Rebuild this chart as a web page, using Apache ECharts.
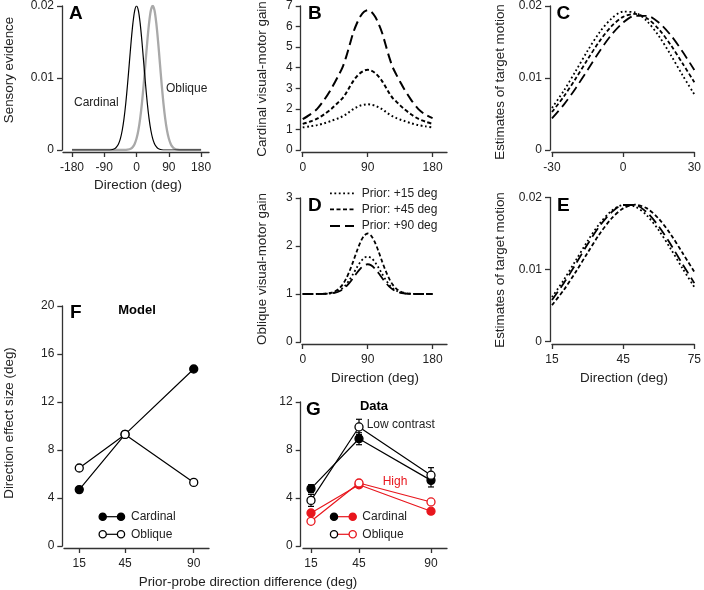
<!DOCTYPE html>
<html><head><meta charset="utf-8">
<script src="https://cdn.jsdelivr.net/npm/echarts@6/dist/echarts.min.js"></script>
<style>html,body{margin:0;padding:0;background:#fff}#chart{width:704px;height:590px}</style>
</head><body><div id="chart"></div>
<script>
// ---------- Panel A: sensory evidence ----------
const cardinalDir = [-180,-100,-80,-70,-60,-55,-50,-45,-40,-35,-30,-25,-20,-15,-10,-5,0,5,10,15,20,25,30,35,40,45,50,55,60,70,80,100,180];
const cardinalEvidence = [0,0,0,0.00004,0.00022,0.00046,0.00088,0.00159,0.00271,0.00433,0.00649,0.00916,0.01213,0.0151,0.01765,0.0194,0.02,0.0194,0.01765,0.0151,0.01213,0.00916,0.00649,0.00433,0.00271,0.00159,0.00088,0.00046,0.00022,0.00004,0,0,0];
const obliqueDir = [-180,-55,-35,-25,-15,-10,-5,0,5,10,15,20,25,30,35,40,45,50,55,60,65,70,75,80,85,90,95,100,105,115,125,145,180];
const obliqueEvidence = [0,0,0,0.00004,0.00022,0.00046,0.00088,0.00159,0.00271,0.00433,0.00649,0.00916,0.01213,0.0151,0.01765,0.0194,0.02,0.0194,0.01765,0.0151,0.01213,0.00916,0.00649,0.00433,0.00271,0.00159,0.00088,0.00046,0.00022,0.00004,0,0,0];
const ticksA_x = [-180,-90,0,90,180];
const ticksEvidence = [0,0.01,0.02];

// ---------- Panel B: cardinal visual-motor gain ----------
const dirB = [0,10,20,30,40,50,55,60,65,70,75,80,85,90,95,100,105,110,115,120,125,130,135,140,150,160,170,180];
const gainB15 = [1.1,1.15,1.21,1.3,1.42,1.55,1.63,1.73,1.86,1.99,2.08,2.16,2.2,2.22,2.2,2.16,2.08,1.99,1.86,1.73,1.63,1.55,1.48,1.42,1.3,1.21,1.15,1.1];
const gainB45 = [1.27,1.38,1.52,1.74,2.01,2.34,2.51,2.76,3.06,3.35,3.58,3.75,3.86,3.9,3.86,3.75,3.58,3.35,3.06,2.76,2.51,2.34,2.17,2.01,1.74,1.52,1.38,1.27];
const gainB90 = [1.5,1.72,2.0,2.45,3.0,3.65,4.0,4.5,5.1,5.7,6.15,6.5,6.72,6.8,6.72,6.5,6.15,5.7,5.1,4.5,4.0,3.65,3.32,3.0,2.45,2.0,1.72,1.55];
const ticksGainB = [0,1,2,3,4,5,6,7];
const ticksDir180 = [0,90,180];

// ---------- Panel C: estimates (cardinal) ----------
const dirC = [-30,-25,-20,-15,-10,-5,0,5,10,15,20,25,30];
const estC15 = [0.00584,0.00824,0.01097,0.01378,0.01632,0.01822,0.01921,0.0191,0.01791,0.01585,0.01323,0.01041,0.00773];
const estC45 = [0.00527,0.00744,0.00993,0.01257,0.01509,0.01716,0.01849,0.0189,0.0183,0.01679,0.01461,0.01205,0.00941];
const estC90 = [0.00439,0.0063,0.00859,0.01112,0.01368,0.01597,0.0177,0.01864,0.01864,0.0177,0.01597,0.01368,0.01112];
const ticksC_x = [-30,0,30];

// ---------- Panel D: oblique visual-motor gain ----------
const dirD = [0,10,20,30,40,45,50,55,60,65,70,75,80,85,90,95,100,105,110,115,120,125,130,135,140,150,160,170,180];
const gainD15 = [1,1,1,1.003,1.016,1.034,1.066,1.118,1.194,1.297,1.42,1.551,1.668,1.75,1.78,1.75,1.668,1.551,1.42,1.297,1.194,1.118,1.066,1.034,1.016,1.003,1,1,1];
const gainD45 = [1,1,1.001,1.005,1.026,1.055,1.107,1.19,1.314,1.48,1.679,1.891,2.08,2.212,2.26,2.212,2.08,1.891,1.679,1.48,1.314,1.19,1.107,1.055,1.026,1.005,1.001,1,1];
const gainD90 = [1,1,1,1.002,1.013,1.027,1.053,1.094,1.154,1.236,1.334,1.438,1.531,1.596,1.62,1.596,1.531,1.438,1.334,1.236,1.154,1.094,1.053,1.027,1.013,1.002,1,1,1];
const ticksGainD = [0,1,2,3];
const priorLabels = ['Prior: +15 deg','Prior: +45 deg','Prior: +90 deg'];

// ---------- Panel E: estimates (oblique) ----------
const dirE = [15,20,25,30,35,40,45,50,55,60,65,70,75];
const estE15 = [0.00617,0.00857,0.01125,0.01395,0.01635,0.01811,0.01895,0.01874,0.0175,0.01545,0.01289,0.01016,0.00757];
const estE45 = [0.00505,0.00717,0.00966,0.01232,0.0149,0.01705,0.01849,0.019,0.01849,0.01705,0.0149,0.01232,0.00966];
const estE90 = [0.00577,0.00811,0.01076,0.0135,0.016,0.01792,0.01896,0.01896,0.01792,0.016,0.0135,0.01076,0.00811];
const ticksE_x = [15,45,75];

// ---------- Panels F & G ----------
const probeDiff = [15,45,90];
const modelCardinal = [4.7,9.3,14.75];
const modelOblique = [6.5,9.3,5.3];
const ticksF_y = [0,4,8,12,16,20];
const lowCardinal = [4.78,8.94,5.47];
const lowCardinalErr = [0.33,0.5,0.55];
const lowOblique = [3.8,9.92,5.9];
const lowObliqueErr = [0.5,0.64,0.63];
const highCardinal = [2.75,5.1,2.9];
const highOblique = [2.06,5.25,3.67];
const ticksG_y = [0,4,8,12];

const FF = '"Liberation Sans", Arial, Helvetica, sans-serif';
const AX = '#333';
const RED = '#e8161d';
const zip = (xs, ys) => xs.map((x, i) => [x, ys[i]]);

function xAx(g, min, max, ticks, offset) {
  return {type:'value', gridIndex:g, min, max, offset,
    axisLine:{show:true,onZero:false,lineStyle:{color:AX,width:1.3}},
    axisTick:{show:true,length:5,customValues:ticks,lineStyle:{color:AX,width:1.3}},
    axisLabel:{customValues:ticks,margin:10,color:'#222',fontSize:12,fontFamily:FF},
    splitLine:{show:false}};
}
function yAx(g, min, max, ticks, offset) {
  return {type:'value', gridIndex:g, min, max, offset,
    axisLine:{show:true,onZero:false,lineStyle:{color:AX,width:1.3}},
    axisTick:{show:true,length:5,customValues:ticks,lineStyle:{color:AX,width:1.3}},
    axisLabel:{customValues:ticks,margin:8,color:'#222',fontSize:12,fontFamily:FF},
    splitLine:{show:false}};
}
const DOT = [1.8,2.6], SHORT = [4,2.5], LONG = [10,5];
function curve(g, xs, ys, dash, w) {
  return {type:'line', xAxisIndex:g, yAxisIndex:g, data:zip(xs, ys), symbol:'none', smooth:0.3,
    lineStyle:{color:'#000', width:w||1.8, type:dash, cap:'butt'}};
}
function pts(g, xs, ys, color, filled, z) {
  return {type:'line', xAxisIndex:g, yAxisIndex:g, data:zip(xs, ys), symbol:'circle', symbolSize:8, z:z,
    lineStyle:{color:color, width:1.2}, itemStyle:{color: filled ? color : '#fff', borderColor:color, borderWidth:1.3}};
}
function errBars(g, xs, ys, es, color) {
  return {type:'custom', xAxisIndex:g, yAxisIndex:g, z:1,
    data: xs.map((x, i) => [x, ys[i], es[i]]),
    renderItem: function (params, api) {
      const x = api.value(0), y = api.value(1), e = api.value(2);
      const t = api.coord([x, y + e]), b = api.coord([x, y - e]);
      const w = 3, st = {stroke:color, lineWidth:1.2};
      return {type:'group', children:[
        {type:'line', shape:{x1:t[0],y1:t[1],x2:b[0],y2:b[1]}, style:st},
        {type:'line', shape:{x1:t[0]-w,y1:t[1],x2:t[0]+w,y2:t[1]}, style:st},
        {type:'line', shape:{x1:b[0]-w,y1:b[1],x2:b[0]+w,y2:b[1]}, style:st}]};
    }};
}
function txt(x, y, s, opt) {
  opt = opt || {};
  return {type:'text', x:x, y:y, rotation: opt.rot || 0, z:100,
    style:{text:s, fill: opt.color || '#222', textAlign: opt.align || 'left', textVerticalAlign:'middle',
      font: (opt.bold ? 'bold ' : '') + (opt.size || 12) + 'px ' + FF}};
}
function letter(x, y, s) { return txt(x, y, s, {bold:true, size:19, color:'#000'}); }
function ytitle(x, y, s) { return txt(x, y, s, {rot:Math.PI/2, align:'center', size:13.4}); }
function xtitle(x, y, s) { return txt(x, y, s, {align:'center', size:13.4}); }
function legLine(x1, x2, y, dash, color) {
  return {type:'line', z:100, shape:{x1:x1,y1:y,x2:x2,y2:y}, style:{stroke:color||'#000', lineWidth:1.8, lineDash:dash}};
}
function legDot(x, y, stroke, fill) {
  return {type:'circle', z:101, shape:{cx:x,cy:y,r:3.6}, style:{stroke:stroke, fill:fill, lineWidth:1.3}};
}

const option = {
  animation:false,
  backgroundColor:'#fff',
  grid:[
    {left:63, top:6, width:146, height:144},
    {left:302, top:6, width:145, height:144},
    {left:552, top:6, width:144, height:144},
    {left:302, top:198, width:145, height:144},
    {left:552, top:197.5, width:144, height:144},
    {left:64, top:306, width:145, height:240},
    {left:303, top:402, width:144, height:144}
  ],
  xAxis:[
    xAx(0,-205,202,ticksA_x,2),
    xAx(1,-1,200,ticksDir180,2),
    xAx(2,-30,30,ticksC_x,2),
    xAx(3,-1,200,ticksDir180,2),
    xAx(4,15,75,ticksE_x,2.5),
    xAx(5,5,100,probeDiff,2),
    xAx(6,10,100,probeDiff,2)
  ],
  yAxis:[
    yAx(0,0,0.02,ticksEvidence,1),
    yAx(1,0,7,ticksGainB,1.3),
    yAx(2,0,0.02,ticksEvidence,2),
    yAx(3,0,3,ticksGainD,1.3),
    yAx(4,0,0.02,ticksEvidence,2),
    yAx(5,0,20,ticksF_y,1.7),
    yAx(6,0,12,ticksG_y,2.3)
  ],
  series:[
    {type:'line', xAxisIndex:0, yAxisIndex:0, data:zip(obliqueDir, obliqueEvidence), symbol:'none', smooth:0.3, lineStyle:{color:'#a9a9a9', width:2.3}, z:2},
    {type:'line', xAxisIndex:0, yAxisIndex:0, data:zip(cardinalDir, cardinalEvidence), symbol:'none', smooth:0.3, lineStyle:{color:'#000', width:1.2}, z:3},
    curve(1, dirB, gainB15, DOT, 2), curve(1, dirB, gainB45, SHORT, 2), curve(1, dirB, gainB90, LONG, 2),
    curve(2, dirC, estC15, DOT), curve(2, dirC, estC45, SHORT), curve(2, dirC, estC90, LONG),
    curve(3, dirD, gainD15, DOT), curve(3, dirD, gainD45, SHORT), curve(3, dirD, gainD90, LONG),
    curve(4, dirE, estE15, DOT), curve(4, dirE, estE45, SHORT), curve(4, dirE, estE90, LONG),
    pts(5, probeDiff, modelCardinal, '#000', true, 3),
    pts(5, probeDiff, modelOblique, '#000', false, 4),
    errBars(6, probeDiff, lowCardinal, lowCardinalErr, '#000'),
    errBars(6, probeDiff, lowOblique, lowObliqueErr, '#000'),
    pts(6, probeDiff, highCardinal, RED, true, 3),
    pts(6, probeDiff, highOblique, RED, false, 4),
    pts(6, probeDiff, lowCardinal, '#000', true, 5),
    pts(6, probeDiff, lowOblique, '#000', false, 6)
  ],
  graphic:[
    letter(69, 14, 'A'), letter(308, 13.5, 'B'), letter(556.5, 13.7, 'C'),
    letter(308, 206, 'D'), letter(557, 206, 'E'), letter(70, 313, 'F'), letter(306, 409.7, 'G'),
    ytitle(9, 70, 'Sensory evidence'),
    ytitle(262, 79, 'Cardinal visual-motor gain'),
    ytitle(500.7, 82, 'Estimates of target motion'),
    ytitle(262, 269, 'Oblique visual-motor gain'),
    ytitle(500, 270, 'Estimates of target motion'),
    ytitle(9, 423, 'Direction effect size (deg)'),
    xtitle(138, 185, 'Direction (deg)'),
    xtitle(375, 378.3, 'Direction (deg)'),
    xtitle(624, 378.3, 'Direction (deg)'),
    xtitle(248, 582.7, 'Prior-probe direction difference (deg)'),
    txt(74, 103, 'Cardinal'),
    txt(166, 89, 'Oblique'),
    txt(137, 310, 'Model', {bold:true, size:13, align:'center', color:'#000'}),
    txt(374, 406.7, 'Data', {bold:true, size:13, align:'center', color:'#000'}),
    txt(366.7, 424.3, 'Low contrast'),
    txt(382.7, 481.7, 'High', {color:RED}),
    legLine(330, 354, 193.3, DOT), txt(361.7, 193.3, priorLabels[0]),
    legLine(330, 354, 209.3, SHORT), txt(361.7, 209.3, priorLabels[1]),
    legLine(330, 354, 226, LONG), txt(361.7, 226, priorLabels[2]),
    {type:'line', z:100, shape:{x1:102.7,y1:516.7,x2:121,y2:516.7}, style:{stroke:'#000', lineWidth:1.2}},
    legDot(102.7, 516.7, '#000', '#000'), legDot(121, 516.7, '#000', '#000'), txt(131, 516.7, 'Cardinal'),
    {type:'line', z:100, shape:{x1:102.7,y1:534.3,x2:121,y2:534.3}, style:{stroke:'#000', lineWidth:1.2}},
    legDot(102.7, 534.3, '#000', '#fff'), legDot(121, 534.3, '#000', '#fff'), txt(131, 534.3, 'Oblique'),
    {type:'line', z:100, shape:{x1:334,y1:516.7,x2:352.7,y2:516.7}, style:{stroke:RED, lineWidth:1.2}},
    legDot(334, 516.7, '#000', '#000'), legDot(352.7, 516.7, RED, RED), txt(362.3, 516.7, 'Cardinal'),
    {type:'line', z:100, shape:{x1:334,y1:534.3,x2:352.7,y2:534.3}, style:{stroke:RED, lineWidth:1.2}},
    legDot(334, 534.3, '#000', '#fff'), legDot(352.7, 534.3, RED, '#fff'), txt(362.3, 534.3, 'Oblique')
  ]
};
const chart = echarts.init(document.getElementById('chart'), null, {renderer:'canvas'});
chart.setOption(option);
</script></body></html>
